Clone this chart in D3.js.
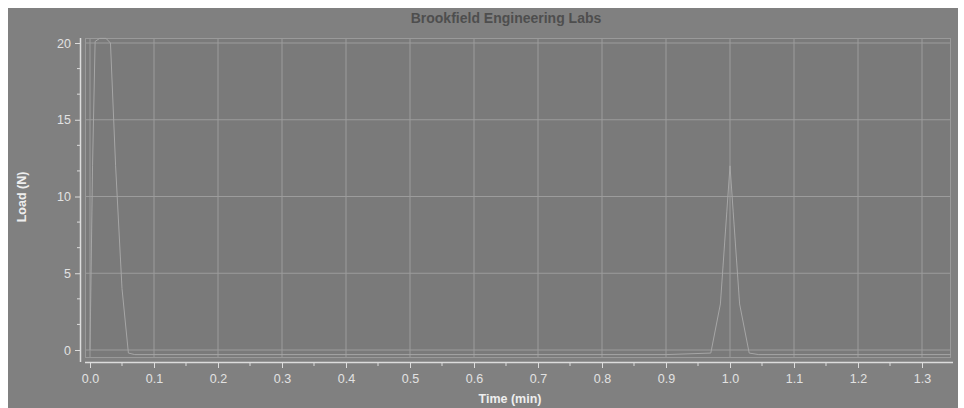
<!DOCTYPE html>
<html>
<head>
<meta charset="utf-8">
<script src="https://cdn.jsdelivr.net/npm/d3@7"></script>
<style>
  body { margin: 0; background: #fff; }
  svg { display: block; }
  .tick text { font-family: "Liberation Sans", Arial, sans-serif; font-size: 12.5px; fill: #e2e2e2; }
</style>
</head>
<body>
<svg id="chart" width="964" height="408"></svg>
<script>
// time (min) and load (N)
var time = [0.000, 0.004, 0.008, 0.015, 0.025, 0.032, 0.040, 0.050, 0.060, 0.070, 0.300, 0.600, 0.900, 0.970, 0.985, 0.995, 1.000, 1.005, 1.015, 1.030, 1.045, 1.200, 1.345];
var load = [0.0, 12.0, 20.1, 20.3, 20.3, 20.0, 12.0, 4.0, -0.2, -0.3, -0.3, -0.3, -0.3, -0.2, 3.0, 9.0, 12.0, 9.0, 3.0, -0.2, -0.3, -0.3, -0.3];
var xTicks = [0, 0.1, 0.2, 0.3, 0.4, 0.5, 0.6, 0.7, 0.8, 0.9, 1.0, 1.1, 1.2, 1.3];
var yTicks = [0, 5, 10, 15, 20];
var title = "Brookfield Engineering Labs";

var svg = d3.select("#chart");
var W = 964, H = 408;

var x = d3.scaleLinear().domain([0, 1.3]).range([90, 922]);
var y = d3.scaleLinear().domain([0, 20]).range([350, 43]);

var frame = { left: 85, right: 950, top: 38, bottom: 357 };

// scanned grey page
svg.append("rect").attr("x", 8).attr("y", 8).attr("width", 950).attr("height", H - 8)
    .attr("fill", "#808080");
svg.append("rect").attr("x", frame.left).attr("y", frame.top)
    .attr("width", frame.right - frame.left).attr("height", frame.bottom - frame.top)
    .attr("fill", "#7a7a7a");

// grid
var grid = svg.append("g").attr("class", "grid");
grid.selectAll("line.v").data(xTicks).enter().append("line")
    .attr("class", "v")
    .attr("x1", function (d) { return x(d); }).attr("x2", function (d) { return x(d); })
    .attr("y1", frame.top).attr("y2", frame.bottom)
    .attr("stroke", "#9c9c9c").attr("stroke-width", 1);
grid.selectAll("line.h").data(yTicks).enter().append("line")
    .attr("class", "h")
    .attr("x1", frame.left).attr("x2", frame.right)
    .attr("y1", function (d) { return y(d); }).attr("y2", function (d) { return y(d); })
    .attr("stroke", "#9c9c9c").attr("stroke-width", 1);
svg.append("rect").attr("x", frame.left + 0.5).attr("y", frame.top + 0.5)
    .attr("width", frame.right - frame.left).attr("height", frame.bottom - frame.top)
    .attr("fill", "none").attr("stroke", "#9a9a9a");

// trace
var line = d3.line()
    .x(function (d) { return x(d[0]); })
    .y(function (d) { return y(d[1]); });
var pts = time.map(function (t, i) { return [t, load[i]]; });
svg.append("path").datum(pts)
    .attr("d", line)
    .attr("fill", "none")
    .attr("stroke", "#a6a6a6")
    .attr("stroke-width", 1);

// axes
var xAxis = d3.axisBottom(x).tickValues(xTicks).tickFormat(d3.format(".1f")).tickSize(6).tickPadding(6);
var gx = svg.append("g").attr("transform", "translate(0,362)").call(xAxis);
gx.select(".domain").attr("d", "M85,0.5H953").attr("stroke", "#dcdcdc").attr("stroke-width", 1.5);
gx.selectAll(".tick line").attr("stroke", "#dcdcdc");
var xMinor = d3.range(0.05, 1.35, 0.1);
gx.selectAll("line.minor").data(xMinor).enter().append("line")
    .attr("class", "minor")
    .attr("x1", function (d) { return x(d); }).attr("x2", function (d) { return x(d); })
    .attr("y1", 0).attr("y2", 4).attr("stroke", "#dcdcdc");

var yAxis = d3.axisLeft(y).tickValues(yTicks).tickSize(5).tickPadding(4);
var gy = svg.append("g").attr("transform", "translate(80,0)").call(yAxis);
gy.select(".domain").attr("d", "M0.5,38V362").attr("stroke", "#dcdcdc").attr("stroke-width", 1.5);
gy.selectAll(".tick line").attr("stroke", "#dcdcdc");
var yMinor = d3.range(0, 20.1, 5 / 3).filter(function (d) { return Math.abs(d % 5) > 0.01 && Math.abs(d % 5 - 5) > 0.01; });
gy.selectAll("line.minor").data(yMinor).enter().append("line")
    .attr("class", "minor")
    .attr("x1", -3).attr("x2", 0)
    .attr("y1", function (d) { return y(d); }).attr("y2", function (d) { return y(d); })
    .attr("stroke", "#dcdcdc");

// titles
svg.append("text").attr("x", 506).attr("y", 23)
    .attr("text-anchor", "middle")
    .attr("font-family", "Liberation Sans, Arial, sans-serif")
    .attr("font-size", 14).attr("font-weight", "bold")
    .attr("fill", "#4e4e4e")
    .text(title);
svg.append("text").attr("x", 510).attr("y", 403)
    .attr("text-anchor", "middle")
    .attr("font-family", "Liberation Sans, Arial, sans-serif")
    .attr("font-size", 12.5).attr("font-weight", "bold")
    .attr("fill", "#eeeeee")
    .text("Time (min)");
svg.append("text")
    .attr("transform", "translate(26,197) rotate(-90)")
    .attr("text-anchor", "middle")
    .attr("font-family", "Liberation Sans, Arial, sans-serif")
    .attr("font-size", 12.5).attr("font-weight", "bold")
    .attr("fill", "#eeeeee")
    .text("Load (N)");
</script>
</body>
</html>
